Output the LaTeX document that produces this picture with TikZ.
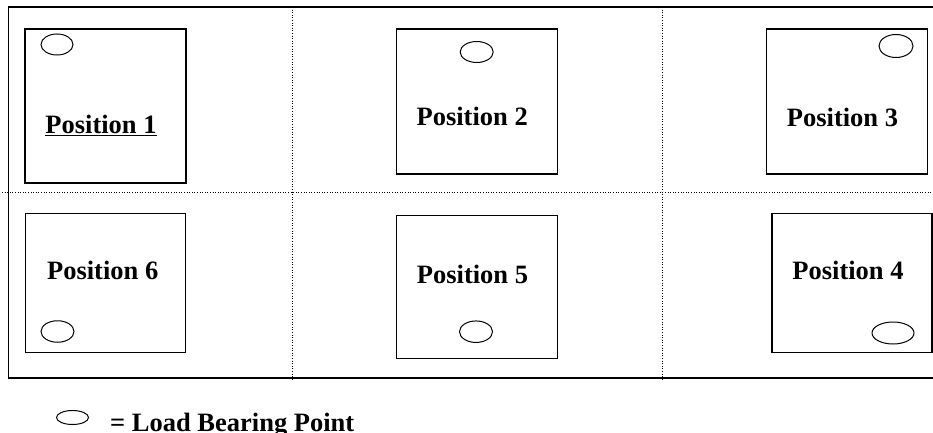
\documentclass[tikz,border=0pt]{standalone}
\usepackage{fontspec}
\setmainfont{Liberation Serif}
\usetikzlibrary{shapes.geometric}
\begin{document}
\begin{tikzpicture}[x=1pt,y=-1pt,
  posbox/.style={draw, line width=1.2pt, inner sep=0pt},
  lbp/.style={draw, ellipse, line width=1pt, inner sep=0pt},
  lbl/.style={inner sep=0pt, anchor=base, font=\fontsize{26.5}{30}\selectfont\bfseries},
  frame/.style={line width=1.3pt},
  grid/.style={line width=1pt, dash pattern=on 1pt off 1.6pt}]
\useasboundingbox (0,0) rectangle (933,433);
% frame
\coordinate (ftr) at (933,7);
\coordinate (ftl) at (8.5,7);
\coordinate (fbl) at (8.5,378);
\coordinate (fbr) at (933,378);
\draw[frame] (ftr) -- (ftl) -- (fbl) -- (fbr);
% dotted grid
\coordinate (hl) at (2,192);
\coordinate (hr) at (933,192);
\coordinate (v1t) at (292,7);
\coordinate (v1b) at (292,380);
\coordinate (v2t) at (662,7);
\coordinate (v2b) at (662,380);
\draw[grid] (hl) -- (hr);
\draw[grid] (v1t) -- (v1b);
\draw[grid] (v2t) -- (v2b);
% boxes
\node[posbox, minimum width=161pt, minimum height=154pt] (b1) at (105.5,106) {};
\node[posbox, minimum width=161pt, minimum height=145pt] (b2) at (476.7,101.5) {};
\node[posbox, minimum width=161pt, minimum height=145pt] (b3) at (847,101.5) {};
\node[posbox, minimum width=160pt, minimum height=139pt] (b6) at (105.8,283) {};
\node[posbox, minimum width=161pt, minimum height=143pt] (b5) at (476.7,287.3) {};
\node[posbox, minimum width=160pt, minimum height=139pt] (b4) at (852,283) {};
% labels
\node[lbl] (t1) at (101,133) {Position 1};
\draw[line width=1.6pt] ([yshift=-2.3pt]t1.base west) -- ([yshift=-2.3pt]t1.base east);
\node[lbl] (t2) at (472.2,125) {Position 2};
\node[lbl] (t3) at (842.5,126.7) {Position 3};
\node[lbl] (t6) at (102.7,279) {Position 6};
\node[lbl] (t5) at (472.5,283.3) {Position 5};
\node[lbl] (t4) at (848,279) {Position 4};
% load bearing points
\node[lbp, minimum width=32pt, minimum height=21pt] (e1) at (57,44.5) {};
\node[lbp, minimum width=33pt, minimum height=21pt] (e2) at (476.7,52) {};
\node[lbp, minimum width=34pt, minimum height=23pt] (e3) at (896,46) {};
\node[lbp, minimum width=33pt, minimum height=21.5pt] (e6) at (57.5,331.5) {};
\node[lbp, minimum width=33pt, minimum height=21.5pt] (e5) at (476,331.7) {};
\node[lbp, minimum width=42pt, minimum height=22pt] (e4) at (893,333) {};
% legend
\node[lbp, minimum width=32pt, minimum height=14pt] (le) at (72.5,417.5) {};
\node[lbl, anchor=base west] (lt) at (110,431.5) {= Load Bearing Point};
\end{tikzpicture}
\end{document}
